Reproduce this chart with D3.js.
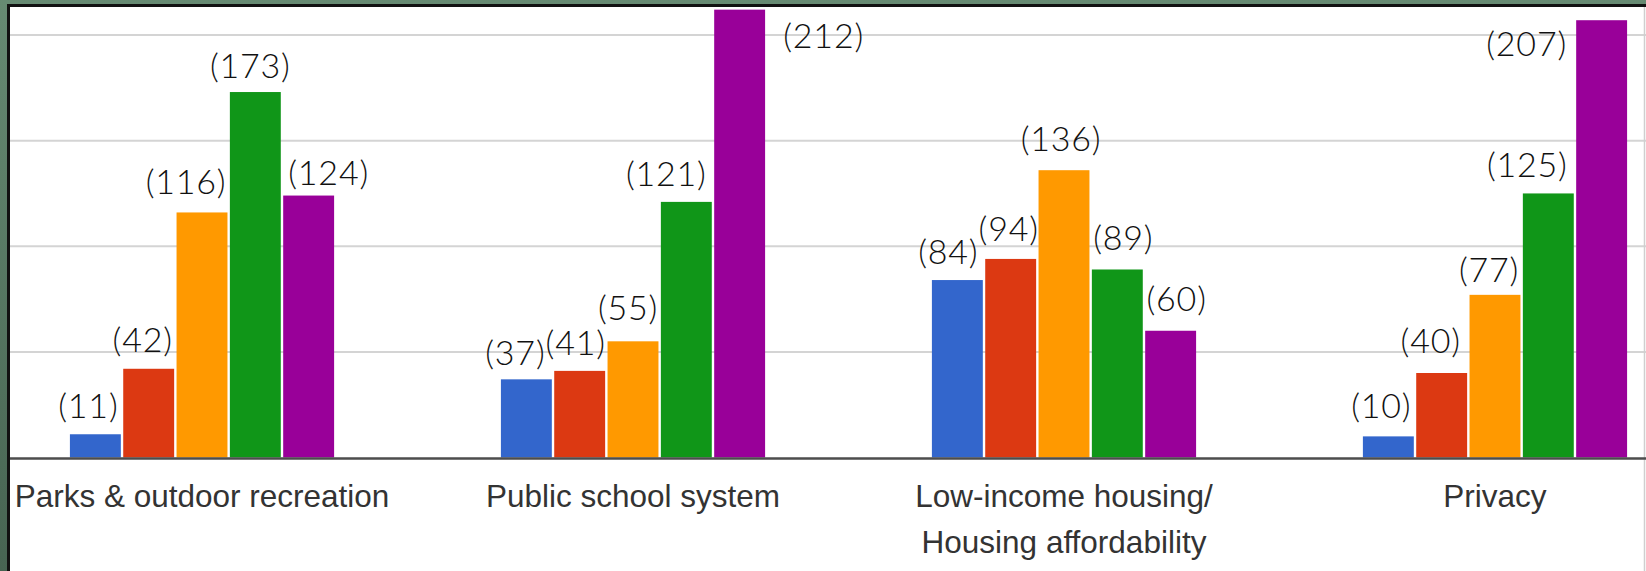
<html>
<head>
<script src="https://d3js.org/d3.v7.min.js"></script>
<style>
  body { margin: 0; background: #fff; }
  svg { display: block; }
</style>
</head>
<body>
<script>

W = 1646;
H = 571;

// data
categories = ["Parks & outdoor recreation", "Public school system",
              "Low-income housing/\nHousing affordability", "Privacy"];
seriesNames = ["1", "2", "3", "4", "5"];
series1 = [11, 37, 84, 10];
series2 = [42, 41, 94, 40];
series3 = [116, 55, 136, 77];
series4 = [173, 121, 89, 125];
series5 = [124, 212, 60, 207];
gridTicks = [50, 100, 150, 200];
colors = ["#3366cc", "#dc3912", "#ff9900", "#109618", "#990099"];

// hand placement of the "(n)" labels: [dx from bar centre, gap above bar top]
labelNudge = [
  [[-7, 16], [-6, 17], [-16, 18], [-5, 14], [20, 11]],
  [[-11, 14], [-4, 16], [-5, 21], [-20, 16], [84, -38]],
  [[-9, 16], [-2, 18], [-3, 19], [6, 19], [6, 20]],
  [[-7, 18], [-11, 20], [-6, 13], [-21, 16], [-75, -36]]
];

allSeries = [series1, series2, series3, series4, series5];

svg = d3.select("body").append("svg")
  .attr("width", W)
  .attr("height", H);

// green frame behind the screenshot
grad = svg.append("defs").append("linearGradient").attr("id", "bg")
  .attr("x1", 0).attr("y1", 0).attr("x2", 0).attr("y2", 1);
grad.append("stop").attr("offset", 0).attr("stop-color", "#668a72");
grad.append("stop").attr("offset", 1).attr("stop-color", "#476452");

svg.append("rect").attr("width", W).attr("height", H).attr("fill", "url(#bg)");
svg.append("rect").attr("x", 7).attr("y", 4).attr("width", W - 7).attr("height", H - 4).attr("fill", "#111");
svg.append("rect").attr("x", 10).attr("y", 7).attr("width", W - 10).attr("height", H - 7).attr("fill", "#fff");

x0 = d3.scaleBand()
  .domain(categories)
  .range([10, 1687])
  .paddingInner(0.387)
  .paddingOuter(0.139);

x1 = d3.scaleBand()
  .domain(seriesNames)
  .range([0, x0.bandwidth()])
  .paddingInner(0.045);

y = d3.scaleLinear()
  .domain([0, 200])
  .range([457.5, 35]);

// gridlines
svg.append("g").selectAll("line")
  .data(gridTicks)
  .enter().append("line")
  .attr("x1", 10)
  .attr("x2", W)
  .attr("y1", d => y(d))
  .attr("y2", d => y(d))
  .attr("stroke", "#d4d4d4")
  .attr("stroke-width", 2);

// right edge line
svg.append("line")
  .attr("x1", W - 1.5).attr("x2", W - 1.5)
  .attr("y1", 7).attr("y2", H)
  .attr("stroke", "#cfcfcf")
  .attr("stroke-width", 1.5);

rows = [];
categories.forEach(function(c, ci) {
  allSeries.forEach(function(s, si) {
    rows.push({cat: c, ci: ci, si: si, name: seriesNames[si], value: s[ci]});
  });
});

svg.append("g").selectAll("rect")
  .data(rows)
  .enter().append("rect")
  .attr("x", d => x0(d.cat) + x1(d.name))
  .attr("y", d => y(d.value))
  .attr("width", x1.bandwidth())
  .attr("height", d => y(0) - y(d.value))
  .attr("fill", d => colors[d.si]);

// baseline
svg.append("line")
  .attr("x1", 10).attr("x2", W)
  .attr("y1", y(0) + 1).attr("y2", y(0) + 1)
  .attr("stroke", "#4d4d4d")
  .attr("stroke-width", 2.5);

// value labels
svg.append("g").selectAll("text")
  .data(rows)
  .enter().append("text")
  .attr("x", d => x0(d.cat) + x1(d.name) + x1.bandwidth() / 2 + labelNudge[d.ci][d.si][0])
  .attr("y", d => y(d.value) - labelNudge[d.ci][d.si][1])
  .attr("text-anchor", "middle")
  .attr("font-family", "Lato, 'Open Sans', sans-serif")
  .attr("font-weight", 300)
  .attr("font-size", 34)
  .attr("letter-spacing", 0.8)
  .attr("fill", "#111")
  .text(d => "(" + d.value + ")");

// category labels
catText = svg.append("g").selectAll("text")
  .data(categories)
  .enter().append("text")
  .attr("x", d => x0(d) + x0.bandwidth() / 2)
  .attr("y", 507)
  .attr("text-anchor", "middle")
  .attr("font-family", "'Liberation Sans', Arial, sans-serif")
  .attr("font-size", 31.5)
  .attr("fill", "#333");

catText.each(function(d) {
  var t = d3.select(this);
  d.split("\n").forEach(function(line, i) {
    t.append("tspan")
      .attr("x", x0(d) + x0.bandwidth() / 2)
      .attr("dy", i == 0 ? 0 : 45.5)
      .text(line);
  });
});

</script>
</body>
</html>
